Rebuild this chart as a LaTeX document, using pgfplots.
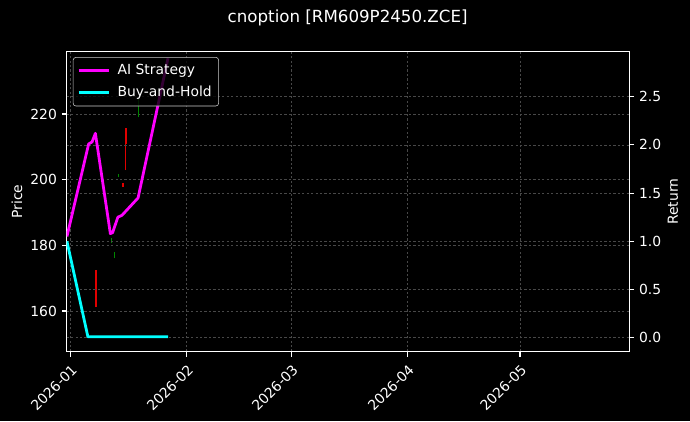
\documentclass[border=0pt]{standalone}
\usepackage{fontspec}
\setmainfont{DejaVu Sans}
\usepackage{pgfplots}
\pgfplotsset{compat=1.18}
\definecolor{candred}{RGB}{225,0,0}
\definecolor{candgreen}{RGB}{0,135,0}
\definecolor{gridgray}{RGB}{72,72,72}
\definecolor{aimag}{RGB}{255,0,255}
\definecolor{bhcyan}{RGB}{0,255,255}
\begin{document}
\begin{tikzpicture}
\path[use as bounding box, fill=black] (0,0) rectangle (496.8pt,303.12pt);
\pgfplotsset{
  every axis/.append style={
    scale only axis, width=405.1pt, height=216pt,
    at={(48.0pt,49.9pt)}, anchor=south west,
    xmin=-1.07, xmax=149.2,
    axis line style={white, line width=0.8pt},
    tick style={white, line width=0.8pt},
    major tick length=3.5pt,
    tick align=outside,
    ticklabel style={white, font=\fontsize{10}{12}\selectfont},
    label style={white, font=\fontsize{10}{12}\selectfont},
    /pgf/number format/assume math mode=true,
    major grid style={gridgray, line width=0.4pt, dash pattern=on 1.6pt off 1.6pt},
  }
}
% price axis (candles)
\begin{axis}[
  ymin=147.6, ymax=239.0,
  ytick={160,180,200,220},
  xtick={0,31,59,90,120},
  xticklabels={2026-01,2026-02,2026-03,2026-04,2026-05},
  xticklabel style={rotate=45, anchor=north east},
  xtick pos=left, ytick pos=left,
  xmajorgrids, ymajorgrids,
  ylabel={Price},
  ylabel style={at={(axis description cs:-0.0883,0.5)}, anchor=center},
  unbounded coords=jump,
]
\addplot[candred, line width=1.6pt] coordinates {
  (6.8,161.2) (6.8,172.4) (6.8,nan)
  (13.9,197.8) (13.9,199.0) (13.9,nan)
  (14.7,211.0) (14.7,215.6)
};
\addplot[candred, line width=0.8pt] coordinates {(14.7,202.9) (14.7,211.0)};
\addplot[candgreen, line width=0.8pt] coordinates {
  (10.8,180.6) (10.8,182.1) (10.8,nan)
  (11.7,176.0) (11.7,178.0) (11.7,nan)
  (12.8,200.8) (12.8,201.6) (12.8,nan)
  (18.0,219.0) (18.0,224.5)
};
\end{axis}
% return axis
\begin{axis}[
  ymin=-0.145, ymax=2.967,
  axis y line*=right, axis x line=none,
  ytick={0,0.5,1,1.5,2,2.5},
  yticklabel style={/pgf/number format/.cd, fixed, fixed zerofill, precision=1},
  ymajorgrids,
  ylabel={Return},
  ylabel style={at={(axis description cs:1.0777,0.5)}, anchor=center},
  legend style={at={(0.011,0.982)}, anchor=north west, fill=black, fill opacity=0.8,
    text opacity=1, draw=white!80!black, rounded corners=2pt, text=white,
    font=\fontsize{10}{12}\selectfont, row sep=3pt, inner ysep=3pt, inner xsep=3pt},
  legend cell align=left,
  legend image code/.code={\draw[#1] (0pt,0pt) -- (21.6pt,0pt); \path (25pt,0pt);},
]
\addplot[aimag, line width=2pt, line join=round] coordinates {
  (-1.0,1.05) (4.8,2.01) (5.7,2.03) (6.6,2.12) (10.6,1.08) (11.2,1.09)
  (12.6,1.25) (13.7,1.27) (18.0,1.45) (26.0,2.90)
};
\addlegendentry{AI Strategy}
\addplot[bhcyan, line width=2pt, line join=round] coordinates {
  (-1.0,1.0) (4.6,0.01) (26.0,0.01)
};
\addlegendentry{Buy-and-Hold}
\end{axis}
\node[white, font=\fontsize{12}{14}\selectfont] at (250.3pt,289.9pt) {cnoption [RM609P2450.ZCE]};
\end{tikzpicture}
\end{document}
